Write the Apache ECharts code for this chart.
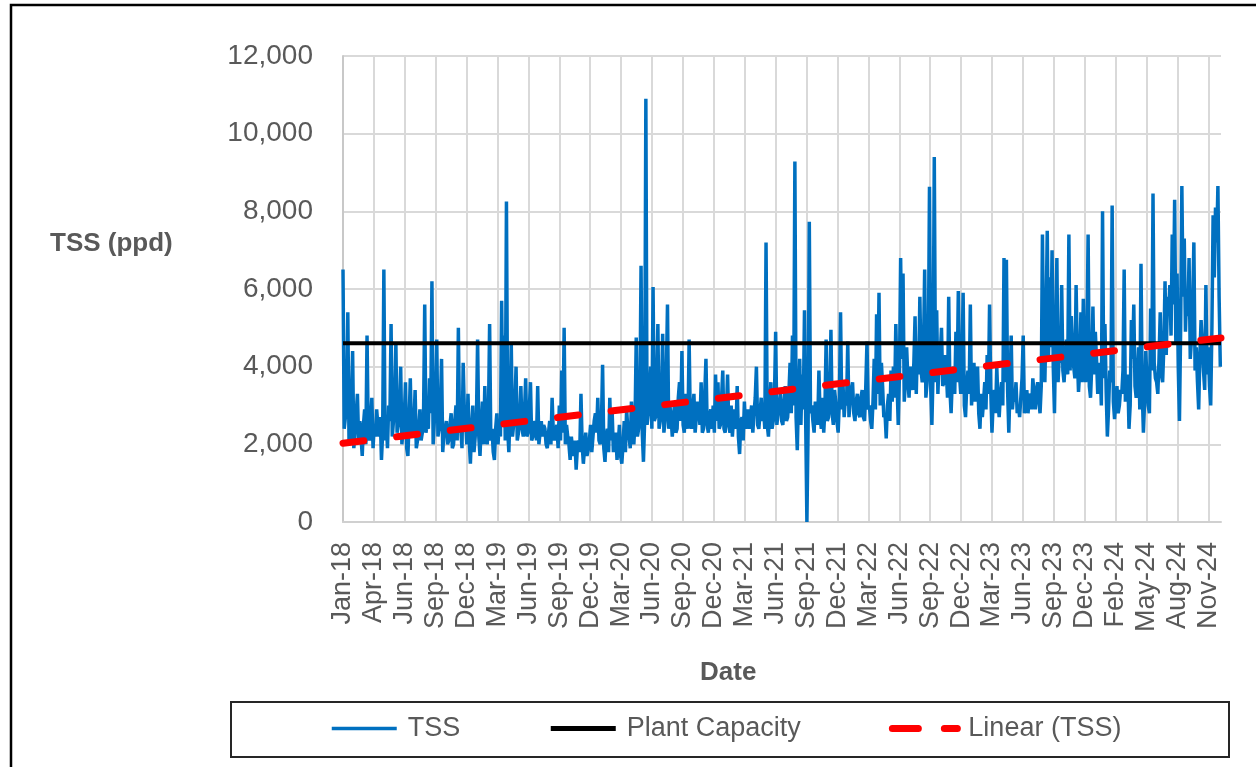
<!DOCTYPE html>
<html lang="en">

<head>
    <meta charset="UTF-8">
    <title>TSS</title>
    <style>
        body { margin: 0; background: #fff; }
        #chart { width: 1256px; height: 767px; }
    </style>
</head>

<body>
    <div id="chart"></div>
</body>
<script src="https://cdn.jsdelivr.net/npm/echarts/dist/echarts.min.js"></script>

<script>
    // x labels every 90 days starting 1 Jan 2018
    var tickLabels = ['Jan-18', 'Apr-18', 'Jun-18', 'Sep-18', 'Dec-18', 'Mar-19', 'Jun-19', 'Sep-19', 'Dec-19',
        'Mar-20', 'Jun-20', 'Sep-20', 'Dec-20', 'Mar-21', 'Jun-21', 'Sep-21', 'Dec-21', 'Mar-22', 'Jun-22',
        'Sep-22', 'Dec-22', 'Mar-23', 'Jun-23', 'Sep-23', 'Dec-23', 'Feb-24', 'May-24', 'Aug-24', 'Nov-24']
    var tickStep = 90
    var lastDay = 2557

    // TSS (ppd): one value at the start of each week...
    var stepDays = 7
    var tss = [
        6500, 2400, 5400, 2000, 4400, 2300, 3300, 2600, 1700, 2900,
        4800, 2100, 3200, 2500, 2900, 2200, 1600, 6500, 2700, 3000,
        5100, 2600, 4600, 2500, 4000, 2400, 3600, 1700, 3700, 2200,
        3400, 2100, 2900, 2300, 5600, 2500, 3700, 6200, 2600, 4700,
        2400, 4200, 2300, 2600, 2100, 2800,
        2000, 3000, 5000, 2400, 4100, 2600, 3300, 1500, 3000, 2200,
        4700, 1700, 3100, 3500, 2000, 5100, 2400, 1600, 2800, 2600,
        5700, 4800, 8250, 1800, 4600, 2500, 4000, 2300, 3500, 2200,
        3700, 2300, 3600, 2200, 2500, 3500, 2300, 2200, 2400, 1900,
        2600, 3200, 2100, 2500, 3000, 3900,
        5000, 2500, 2000, 2200, 1700, 1350, 2100, 3300, 1500, 2300,
        1850, 2500, 2200, 2800, 3200, 2000, 4050, 1550, 2400, 3200,
        2800, 2100, 1600, 2500, 1500, 2600, 2900, 2200, 3100, 2000,
        4750, 2400, 6600, 1550, 10900, 2800, 4000, 6050, 2700, 5100,
        2600, 4850, 2600, 5600, 3000,
        2200, 3100, 2400, 3600, 4400, 2300, 2800, 4700, 2400, 3300,
        2300, 2900, 3600, 2400, 4200, 2300, 2900, 3000, 3800, 3600,
        2500, 3900, 2300, 3800, 2300, 2200, 2900, 3500, 1750, 2700,
        3100, 2600, 2400, 3000, 2800, 4000, 2400, 3200, 2900, 7200,
        2200, 3600, 2600, 4900, 2800, 3300,
        2500, 3500, 2700, 4100, 4800, 9280, 1850, 4200, 3800, 5450,
        0, 7730, 3000, 2300, 3100, 3900, 2400, 2300, 4700, 2700,
        4950, 2500, 3100, 2300, 5400, 3600, 3200, 4650, 3100, 3600,
        2600, 3300, 2700, 3400, 2600, 4650, 3000, 2400, 4200, 5350,
        5900, 4100, 2700, 2150, 3300, 3900,
        4000, 5100, 2500, 6800, 6400, 3600, 3700, 4000, 3400, 5300,
        4600, 5800, 3600, 6500, 3600, 8630, 2500, 9400, 5450, 4200,
        5000, 3600, 3900, 5800, 2800, 4000, 4900, 5950, 3300, 5900,
        2700, 3900, 5600, 3600, 3100, 4000, 2400, 2700, 3600, 4300,
        5600, 2300, 3400, 4000, 2700, 3600,
        6800, 6750, 2300, 4800, 3300, 3600, 3000, 3200, 4800, 3000,
        2800, 3300, 3700, 2900, 3600, 2800, 7400, 3600, 7500, 6300,
        7000, 2800, 6800, 4300, 6100, 3600, 4700, 7400, 5300, 4000,
        6100, 3350, 5400, 5750, 3600, 7400, 3200, 5550, 4900, 3300,
        4100, 8000, 5100, 2200, 3900, 8150,
        2650, 3500, 3000, 3300, 6500, 3600, 2400, 5200, 5600, 3200,
        4500, 6650, 2300, 4400, 3000, 5500, 8460, 3700, 3300, 5400,
        3600, 6200, 5800, 6100, 7400, 8300, 6400, 2600, 8650, 7300,
        6000, 6800, 4700, 7200, 4500, 2900, 5200, 3900, 6100, 4500,
        3000, 7900, 8100, 8650, 4000
    ]
    // ...and one from the middle of each week
    var tssMid = [
        2400, 3000, 2100, 3100, 1900, 2800, 2100, 2200, 2500, 2000,
        2300, 2600, 1900, 2200, 2500, 2700, 2300, 2100, 1900, 2600,
        2200, 3100, 2300, 2900, 2000, 2700, 1900, 2600, 2300, 2500,
        1900, 2400, 2100, 2700, 2300, 2400, 2800, 2000, 3100, 2200,
        2900, 1800, 2400, 2000, 2500, 1900,
        2600, 2100, 2300, 1900, 2800, 2000, 2100, 2400, 1800, 2600,
        2200, 2500, 2000, 2300, 2700, 2100, 1800, 2400, 2000, 2200,
        2600, 2100, 2400, 2900, 2200, 3000, 2100, 2700, 2400, 2800,
        2200, 2900, 2100, 2600, 2100, 2000, 2600, 2500, 2000, 2300,
        2000, 2300, 2400, 1900, 2100, 2300,
        2000, 2200, 1600, 1900, 2100, 1900, 1800, 2000, 1900, 1700,
        2100, 1800, 2600, 2300, 2100, 2500, 1900, 2200, 1800, 2100,
        1800, 2300, 2000, 1700, 2000, 1800, 2400, 1900, 2300, 2600,
        2200, 3000, 2300, 2600, 2500, 3300, 2400, 2600, 3500, 2400,
        3200, 2300, 3700, 2400, 2700,
        2700, 2300, 3200, 2600, 2500, 3300, 2400, 2600, 2900, 2300,
        3100, 2500, 2300, 3300, 2500, 2700, 2400, 2300, 2600, 2400,
        3200, 2400, 2800, 2500, 3000, 2700, 2400, 2200, 2600, 2100,
        2400, 2900, 2700, 2300, 3200, 2500, 2800, 2600, 2400, 2500,
        2900, 2400, 3200, 2500, 3000, 2600,
        3100, 2600, 3300, 2800, 3000, 2700, 3200, 2500, 2900, 2600,
        2400, 2800, 2600, 3100, 2500, 2700, 3200, 2900, 2600, 3300,
        2800, 3400, 2600, 3100, 2900, 2700, 3000, 2700, 3400, 2800,
        3100, 2800, 3200, 2700, 3500, 2900, 2600, 3100, 2900, 3300,
        3000, 3500, 2800, 3000, 2600, 3100,
        3200, 3600, 3800, 4200, 3100, 4500, 3200, 3600, 4100, 3300,
        3800, 3900, 4400, 3200, 4100, 3500, 3900, 3600, 3300, 4300,
        3500, 4300, 3200, 3400, 3700, 3300, 3600, 3800, 4000, 3000,
        3500, 3300, 3000, 4100, 3500, 2800, 3300, 3100, 2900, 3300,
        3400, 3100, 2800, 3100, 3300, 3000,
        3600, 3400, 3500, 2900, 3100, 2800, 2700, 3700, 2800, 3400,
        3200, 2900, 3300, 3400, 3100, 3500, 4200, 5200, 4200, 4500,
        4000, 4800, 3600, 4100, 3900, 4200, 3800, 3900, 4500, 3700,
        4300, 3900, 3600, 4200, 4700, 3500, 4000, 3800, 4200, 3600,
        3000, 3700, 3400, 2900, 3600, 3100,
        3100, 2800, 3400, 3900, 3100, 3800, 3000, 4200, 3500, 3800,
        2900, 3400, 3100, 3600, 2800, 3900, 4100, 3600, 4200, 3800,
        4500, 4300, 5400, 4800, 5600, 4600, 4000, 5000, 5800, 4900,
        5300, 4200, 5600, 3900, 3600, 4300, 4600, 3400, 3800, 3500,
        5000, 6300, 7200, 5800
    ]
    var plantCapacity = 4600
    var trendEnds = [2030, 4740]

    var tssData = []
    for (let i = 0; i < tss.length; i++) {
        tssData.push([i * stepDays, tss[i]])
        if (i < tssMid.length) {
            tssData.push([i * stepDays + stepDays / 2, tssMid[i]])
        }
    }

    var font = 'Liberation Sans'
    var grey = '#595959'

    var myChart = echarts.init(document.getElementById('chart'));

    option = {
        animation: false,
        backgroundColor: '#fff',
        textStyle: { fontFamily: font },
        grid: { left: 343, top: 56, width: 878, height: 466 },
        legend: {
            data: [
                { name: 'TSS', lineStyle: { width: 3.5 } },
                { name: 'Plant Capacity', lineStyle: { width: 5 } },
                { name: 'Linear (TSS)', lineStyle: { width: 7, type: [26, 26], cap: 'round' } }
            ],
            left: 325,
            top: 710,
            itemWidth: 65,
            itemHeight: 14,
            itemGap: 88,
            itemStyle: { opacity: 0 },
            textStyle: { fontSize: 27, color: grey, fontFamily: font, padding: [0, 0, 0, 6] }
        },
        xAxis: {
            type: 'value',
            min: 0,
            max: lastDay,
            interval: tickStep,
            axisLine: { lineStyle: { color: '#d0d0d0', width: 2 } },
            axisTick: { show: false },
            splitLine: { show: true, showMaxLine: false, lineStyle: { color: '#d9d9d9', width: 2 } },
            axisLabel: {
                rotate: 90,
                margin: 20,
                fontSize: 27,
                color: grey,
                fontFamily: font,
                formatter: function (v) {
                    return v % tickStep === 0 && tickLabels[v / tickStep] ? tickLabels[v / tickStep] : ''
                }
            }
        },
        yAxis: {
            type: 'value',
            min: 0,
            max: 12000,
            interval: 2000,
            axisLine: { show: true, lineStyle: { color: '#c8c8c8', width: 2 } },
            axisTick: { show: false },
            splitLine: { lineStyle: { color: '#d9d9d9', width: 2 } },
            axisLabel: {
                margin: 30,
                fontSize: 28,
                color: grey,
                fontFamily: font,
                formatter: function (v) { return v.toLocaleString('en-US') }
            }
        },
        series: [
            {
                name: 'TSS',
                type: 'line',
                data: tssData,
                symbol: 'none',
                lineStyle: { color: '#0070c0', width: 3.5 },
                itemStyle: { color: '#0070c0' }
            },
            {
                name: 'Plant Capacity',
                type: 'line',
                data: [[0, plantCapacity], [lastDay, plantCapacity]],
                symbol: 'none',
                lineStyle: { color: '#000', width: 4 },
                itemStyle: { color: '#000' }
            },
            {
                name: 'Linear (TSS)',
                type: 'line',
                data: [[0, trendEnds[0]], [lastDay, trendEnds[1]]],
                symbol: 'none',
                lineStyle: { color: '#ff0000', width: 7, type: [21, 33], cap: 'round' },
                itemStyle: { color: '#ff0000' }
            }
        ],
        graphic: [
            {
                type: 'rect',
                shape: { x: 11, y: 5, width: 1300, height: 800 },
                style: { fill: 'none', stroke: '#000', lineWidth: 2.5 },
                silent: true
            },
            {
                type: 'rect',
                shape: { x: 231, y: 702, width: 998, height: 55 },
                style: { fill: 'none', stroke: '#262626', lineWidth: 2 },
                silent: true
            },
            {
                type: 'text',
                left: 50,
                top: 231,
                style: { text: 'TSS (ppd)', font: 'bold 26px "Liberation Sans"', fill: grey }
            },
            {
                type: 'text',
                left: 700,
                top: 660,
                style: { text: 'Date', font: 'bold 26px "Liberation Sans"', fill: grey }
            }
        ]
    };
    myChart.setOption(option);
</script>

</html>
